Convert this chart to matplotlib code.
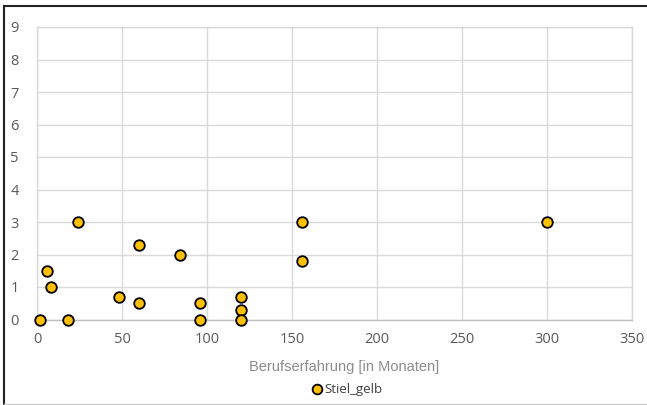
import matplotlib
matplotlib.use("Agg")
import matplotlib.pyplot as plt
from matplotlib.lines import Line2D

# Berufserfahrung (Monate) vs. Wert der Reihe "Stiel_gelb"
months = [2, 18, 24, 6, 8, 48, 60, 60, 84, 96, 96, 120, 120, 120, 156, 156, 300]
values = [0, 0, 3, 1.5, 1, 0.7, 0.5, 2.3, 2, 0.5, 0, 0.7, 0.3, 0, 3, 1.8, 3]
series_name = "Stiel_gelb"
x_label = "Berufserfahrung [in Monaten]"
x_ticks = [0, 50, 100, 150, 200, 250, 300, 350]
y_ticks = [0, 1, 2, 3, 4, 5, 6, 7, 8, 9]

fig = plt.figure(figsize=(6.47, 4.05), dpi=100)
ax = fig.add_axes([37 / 647, 1 - 319.5 / 405, 595 / 647, 292.5 / 405])

grid_c = "#d9d9d9"
tick_c = "#595959"
ax.set_xlim(0, 350)
ax.set_ylim(0, 9)
ax.set_xticks(x_ticks)
ax.set_yticks(y_ticks)
ax.grid(True, color=grid_c, linewidth=1.0)
ax.set_axisbelow(True)
for side in ("top", "right", "left"):
    ax.spines[side].set_color(grid_c)
    ax.spines[side].set_linewidth(1.0)
ax.spines["bottom"].set_color("#bfbfbf")
ax.spines["bottom"].set_linewidth(1.0)
ax.tick_params(length=0, colors=tick_c, labelsize=10.5)
ax.tick_params(axis="x", pad=9)
ax.tick_params(axis="y", pad=13)
for lab in ax.get_xticklabels() + ax.get_yticklabels():
    lab.set_family("Open Sans")

ax.scatter(months, values, s=58, color="#FFC000", edgecolors="black",
           linewidths=1.3, zorder=3, clip_on=False)

fig.text(344 / 647, 1 - 367 / 405, x_label, ha="center", va="center",
         color="#8c8c8c", fontsize=10.5, family="Liberation Sans")

handle = Line2D([], [], marker="o", linestyle="none", markersize=7,
                markerfacecolor="#FFC000", markeredgecolor="black",
                markeredgewidth=1.3)
fig.legend([handle], [series_name], loc="center", bbox_to_anchor=(346 / 647, 1 - 390 / 405),
           frameon=False, handletextpad=0.0, borderpad=0, handlelength=1.2,
           labelcolor="#404040", prop={"family": "Open Sans", "size": 9.5})

# Rahmen des Diagrammbereichs
fig.add_artist(Line2D([4 / 647, 4 / 647], [0, 1 - 6 / 405], color="#222222",
                      linewidth=1.5, transform=fig.transFigure))
fig.add_artist(Line2D([4 / 647, 1], [1 - 6 / 405, 1 - 6 / 405], color="#222222",
                      linewidth=1.5, transform=fig.transFigure))
fig.add_artist(Line2D([4 / 647, 1], [1 - 403.5 / 405, 1 - 403.5 / 405], color="#cccccc",
                      linewidth=1.0, transform=fig.transFigure))

fig.savefig("out.png", dpi=100, facecolor="white")
